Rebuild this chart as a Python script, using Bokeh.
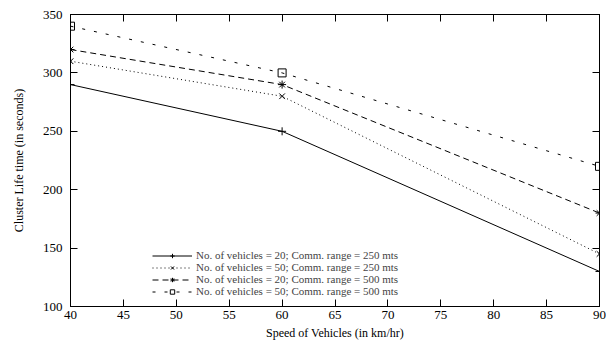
from bokeh.plotting import figure
from bokeh.models import LinearAxis, Legend, LegendItem, FixedTicker, Range1d
from bokeh.embed import file_html
from bokeh.resources import INLINE

speed = [40, 60, 90]
s1 = [290, 250, 130]   # 20 vehicles, 250 mts
s2 = [310, 280, 145]   # 50 vehicles, 250 mts
s3 = [320, 290, 180]   # 20 vehicles, 500 mts
s4 = [340, 300, 220]   # 50 vehicles, 500 mts
labels = [
    "No. of vehicles = 20; Comm. range = 250 mts",
    "No. of vehicles = 50; Comm. range = 250 mts",
    "No. of vehicles = 20; Comm. range = 500 mts",
    "No. of vehicles = 50; Comm. range = 500 mts",
]
x_ticks = [40, 45, 50, 55, 60, 65, 70, 75, 80, 85, 90]
y_ticks = [100, 150, 200, 250, 300, 350]

FONT = "Liberation Serif"

p = figure(width=606, height=344, output_backend="svg", toolbar_location=None,
           x_range=Range1d(40, 90), y_range=Range1d(100, 350),
           min_border_left=70, min_border_right=7, min_border_top=14, min_border_bottom=38)
p.grid.visible = False
p.outline_line_color = "black"
p.outline_line_width = 1
p.background_fill_color = "white"
p.border_fill_color = "white"

for ax in [p.xaxis[0], p.yaxis[0]]:
    ax.major_tick_in = 7
    ax.major_tick_out = 0
    ax.minor_tick_line_color = None
    ax.axis_line_color = "black"
    ax.major_label_text_font = FONT
    ax.major_label_text_font_size = "13px"
    ax.major_label_text_color = "black"
    ax.axis_label_text_font = FONT
    ax.axis_label_text_font_size = "12px"
    ax.axis_label_text_font_style = "normal"
    ax.axis_label_text_color = "black"
p.xaxis[0].ticker = FixedTicker(ticks=x_ticks)
p.yaxis[0].ticker = FixedTicker(ticks=y_ticks)
p.xaxis[0].axis_label = "Speed of Vehicles (in km/hr)"
p.yaxis[0].axis_label = "Cluster Life time (in seconds)"
p.xaxis[0].major_label_standoff = 4
p.yaxis[0].major_label_standoff = 8
p.xaxis[0].axis_label_standoff = 4
p.yaxis[0].axis_label_standoff = 14

top = LinearAxis(ticker=FixedTicker(ticks=x_ticks), major_tick_in=7, major_tick_out=0,
                 minor_tick_line_color=None, major_label_text_color=None,
                 major_label_standoff=0)
right = LinearAxis(ticker=FixedTicker(ticks=y_ticks), major_tick_in=7, major_tick_out=0,
                   minor_tick_line_color=None, major_label_text_color=None,
                   major_label_standoff=0)
p.add_layout(top, "above")
p.add_layout(right, "right")

styles = [
    (s1, "solid", "cross"),
    (s2, "1 3", "x"),
    (s3, "6 4", "asterisk"),
    (s4, "3 9", "square"),
]
items = []
for (ys, dash, mk), lab in zip(styles, labels):
    ln = p.line(speed, ys, line_color="black", line_width=1, line_dash=dash)
    sc = p.scatter(speed, ys, marker=mk, size=8, line_color="black",
                   fill_color=None, line_width=1)
    items.append(LegendItem(label=lab, renderers=[ln, sc]))

legend = Legend(items=items, location=(82, 9), padding=0, margin=0, spacing=0,
                label_text_font=FONT, label_text_font_size="11px",
                label_height=11, glyph_height=11, glyph_width=40,
                label_standoff=4, border_line_color=None,
                background_fill_alpha=0)
p.add_layout(legend, "center")

open("out.html", "w").write(file_html(p, INLINE))
